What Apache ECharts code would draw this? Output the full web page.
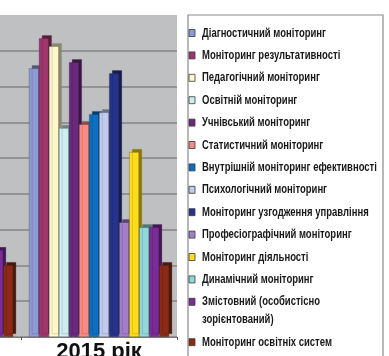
<!DOCTYPE html>
<html>
<head>
<meta charset="utf-8">
<script src="https://cdn.jsdelivr.net/npm/echarts@6/dist/echarts.min.js"></script>
<style>
  html, body { margin: 0; padding: 0; background: #ffffff; }
  #chart { width: 389px; height: 356px; }
</style>
</head>
<body>
<div id="chart"></div>
<script>
// Years on the category axis (the 2014 group sits mostly outside the frame)
const years = ['2014 рік', '2015 рік'];

// Monitoring types, in legend order
const seriesNames = [
  'Діагностичний моніторинг',
  'Моніторинг результативності',
  'Педагогічний моніторинг',
  'Освітній моніторинг',
  'Учнівський моніторинг',
  'Статистичний моніторинг',
  'Внутрішній моніторинг ефективності',
  'Психологічний моніторинг',
  'Моніторинг узгодження управління',
  'Професіографічний моніторинг',
  'Моніторинг діяльності',
  'Динамічний моніторинг',
  'Змістовний (особистісно\nзорієнтований)',
  'Моніторинг освітніх систем'
];

// Values for 2014 (only the last two bars are in view) and 2015
const values2014 = [null, null, null, null, null, null, null, null, null, null, null, null, 2.43, 2.01];
const values2015 = [7.51, 8.35, 8.13, 5.84, 7.68, 5.95, 6.23, 6.28, 7.37, 3.21, 5.17, 3.07, 3.07, 2.01];

const colors = [
  '#8d9ad6', '#a0356e', '#fdf7cb', '#cdeef0', '#692a7e', '#f98a84', '#0b6fc2',
  '#c3caf0', '#25338c', '#a27ec9', '#fddc1c', '#92d8d8', '#7a2b98', '#8b2b17'
];

function darken(hex, f) {
  const n = parseInt(hex.slice(1), 16);
  const r = Math.round(((n >> 16) & 255) * f);
  const g = Math.round(((n >> 8) & 255) * f);
  const b = Math.round((n & 255) * f);
  return 'rgb(' + r + ',' + g + ',' + b + ')';
}

const series = seriesNames.map((name, i) => ({
  name: name,
  type: 'bar',
  data: [values2014[i], values2015[i]],
  barGap: '0%',
  barCategoryGap: '10%',
  itemStyle: {
    color: colors[i],
    borderColor: 'rgba(40,40,40,0.45)',
    borderWidth: 0.6,
    shadowColor: darken(colors[i], 0.55),
    shadowOffsetX: 3,
    shadowOffsetY: -3,
    shadowBlur: 0
  },
  emphasis: { disabled: true }
}));

// Legend: condensed bold labels with small outlined swatches, inside a framed box
const legendFont = "bold 13px 'Liberation Sans', Arial, sans-serif";
const legendItems = [];
let rowY = 33;
seriesNames.forEach((name, i) => {
  legendItems.push({
    type: 'rect',
    shape: { x: 189, y: rowY - 3.5, width: 6, height: 7 },
    style: { fill: colors[i], stroke: '#3a3a3a', lineWidth: 0.8 },
    silent: true
  });
  legendItems.push({
    type: 'text',
    x: 202,
    y: rowY - 9,
    scaleX: 0.73,
    style: {
      text: name,
      font: legendFont,
      fill: '#181818',
      lineHeight: 18,
      verticalAlign: 'top',
      align: 'left'
    },
    silent: true
  });
  rowY += 22.4 + (name.split('\n').length - 1) * 18;
});

const chart = echarts.init(document.getElementById('chart'), null, { renderer: 'canvas' });
chart.setOption({
  animation: false,
  backgroundColor: '#ffffff',
  color: colors,
  grid: {
    left: -135,
    right: 212,
    top: 15,
    bottom: 19,
    outerBoundsMode: 'none',
    containLabel: false,
    show: true,
    backgroundColor: '#bfc0c2',
    borderWidth: 0
  },
  xAxis: {
    type: 'category',
    data: years,
    axisLine: { show: true, lineStyle: { color: '#7a7a7a', width: 1 } },
    axisTick: { show: true, length: 3, lineStyle: { color: '#555' } },
    axisLabel: {
      margin: 4,
      fontSize: 22,
      fontWeight: 'bold',
      color: '#111',
      fontFamily: "'Liberation Sans', Arial, sans-serif"
    }
  },
  yAxis: {
    type: 'value',
    min: 0,
    max: 9,
    interval: 1,
    axisLabel: { show: false },
    axisLine: { show: false },
    axisTick: { show: false },
    splitLine: {
      show: true,
      showMaxLine: false,
      lineStyle: { color: '#858585', width: 1.5 }
    }
  },
  legend: { show: false },
  graphic: [
    {
      type: 'rect',
      shape: { x: 188, y: 15, width: 195, height: 360 },
      style: { fill: 'none', stroke: '#8a8a8a', lineWidth: 1.2 },
      silent: true
    }
  ].concat(legendItems),
  series: series
});
</script>
</body>
</html>
